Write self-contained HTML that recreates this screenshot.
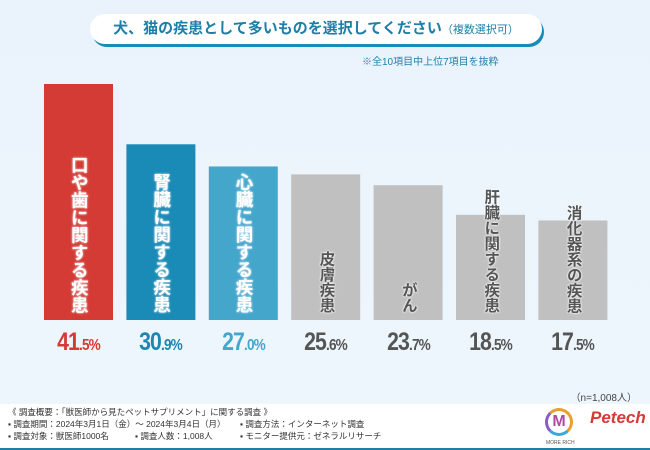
<!DOCTYPE html>
<html><head><meta charset="utf-8">
<style>
body{margin:0;width:650px;height:450px;overflow:hidden;font-family:"Liberation Sans","Noto Sans CJK JP",sans-serif;}
#wrap{position:relative;width:650px;height:450px;background:linear-gradient(#eaf3fc,#eef6fd);}
#title{position:absolute;left:90px;top:14px;width:452px;height:30px;background:#fff;border-radius:16px;box-shadow:2px 3px 0 #1a8ab6;text-align:center;line-height:30px;color:#1d7fa8;font-weight:bold;font-size:15px;}
#title small{font-size:11px;font-weight:normal;}
#note{position:absolute;left:362px;top:53px;font-size:10px;color:#1d7fa8;}
#n{position:absolute;right:13px;top:389px;font-size:10px;color:#444;}
#footer{position:absolute;left:0;top:404px;width:650px;height:44px;background:#fff;border-bottom:2px solid #1f7fa5;font-size:8.5px;color:#333;line-height:12px;white-space:nowrap;}
.lbl{position:absolute;writing-mode:vertical-rl;font-weight:bold;letter-spacing:0;line-height:1;}
.val{position:absolute;text-align:center;font-weight:bold;font-size:25px;letter-spacing:-1px;transform:scaleX(0.85);}
.val span{font-size:16px;}
</style></head><body>
<div id="wrap">
<div id="title">犬、猫の疾患として多いものを選択してください<small>（複数選択可）</small></div>
<div id="note">※全10項目中上位7項目を抜粋</div>
<svg id="svg" width="650" height="450" style="position:absolute;left:0;top:0"></svg>
<div id="labels"></div>
<div id="n">（n=1,008人）</div>
<div id="footer">
<div style="position:absolute;left:8px;top:2px">《 調査概要：「獣医師から見たペットサプリメント」に関する調査 》</div>
<div style="position:absolute;left:8px;top:14px">▪ 調査期間：2024年3月1日（金）～ 2024年3月4日（月）</div>
<div style="position:absolute;left:240px;top:14px">▪ 調査方法：インターネット調査</div>
<div style="position:absolute;left:8px;top:26px">▪ 調査対象：獣医師1000名</div>
<div style="position:absolute;left:135px;top:26px">▪ 調査人数：1,008人</div>
<div style="position:absolute;left:240px;top:26px">▪ モニター提供元：ゼネラルリサーチ</div>
<div style="position:absolute;left:545px;top:4px;width:28px;height:28px;border-radius:50%;border:3px solid #e8a030;border-left-color:#8a5cc8;border-bottom-color:#3aa8d8;box-sizing:border-box;text-align:center;line-height:22px;font-weight:bold;color:#b04aa0;font-size:16px">M</div>
<div style="position:absolute;left:546px;top:33px;font-size:5px;color:#555">MORE RICH</div>
<div style="position:absolute;left:590px;top:8px;font-size:17px;font-weight:bold;font-style:italic;color:#d53b35">Petech</div>
</div>
</div>
<script>
const categories=["口や歯に関する疾患","腎臓に関する疾患","心臓に関する疾患","皮膚疾患","がん","肝臓に関する疾患","消化器系の疾患"];
const values=[41.5,30.9,27.0,25.6,23.7,18.5,17.5];
const barColors=["#d43b35","#1a8ab6","#45a6cc","#c0c0c0","#c0c0c0","#c0c0c0","#c0c0c0"];
const valColors=["#d43b35","#1d86b1","#45a6cc","#555","#555","#555","#555"];
const baseY=320,scale=236/41.5,x0=44,step=82.4,bw=69;
const y=v=>baseY-v*scale;
const svg=document.getElementById('svg');const L=document.getElementById('labels');
values.forEach((v,i)=>{
 const x=x0+i*step;
 const r=document.createElementNS('http://www.w3.org/2000/svg','rect');
 r.setAttribute('x',x);r.setAttribute('y',y(v));r.setAttribute('width',bw);r.setAttribute('height',baseY-y(v));r.setAttribute('fill',barColors[i]);
 
 
 svg.appendChild(r);
 const gray=i>=3;const fs=gray?15.5:17.5;
 const d=document.createElement('div');d.className='lbl';d.textContent=categories[i];
 
 
 d.style.fontSize=fs+'px';d.style.left=(x+bw/2-fs/2)+'px';
 d.style.top=(baseY-7-fs*categories[i].length)+'px';
 d.style.color=gray?'#555':'#fff';
 d.style.textShadow=gray?'0 0 2px #fff,0 0 2px #fff':'0 0 2px #fff';
 L.appendChild(d);
 const s=v.toFixed(1).split('.');
 const t=document.createElement('div');t.className='val';
 
 
 t.style.left=x+'px';t.style.width=bw+'px';t.style.top='328px';t.style.color=valColors[i];
 t.innerHTML=s[0]+'<span>.'+s[1]+'%</span>';
 L.appendChild(t);
});
</script>
</body></html>
